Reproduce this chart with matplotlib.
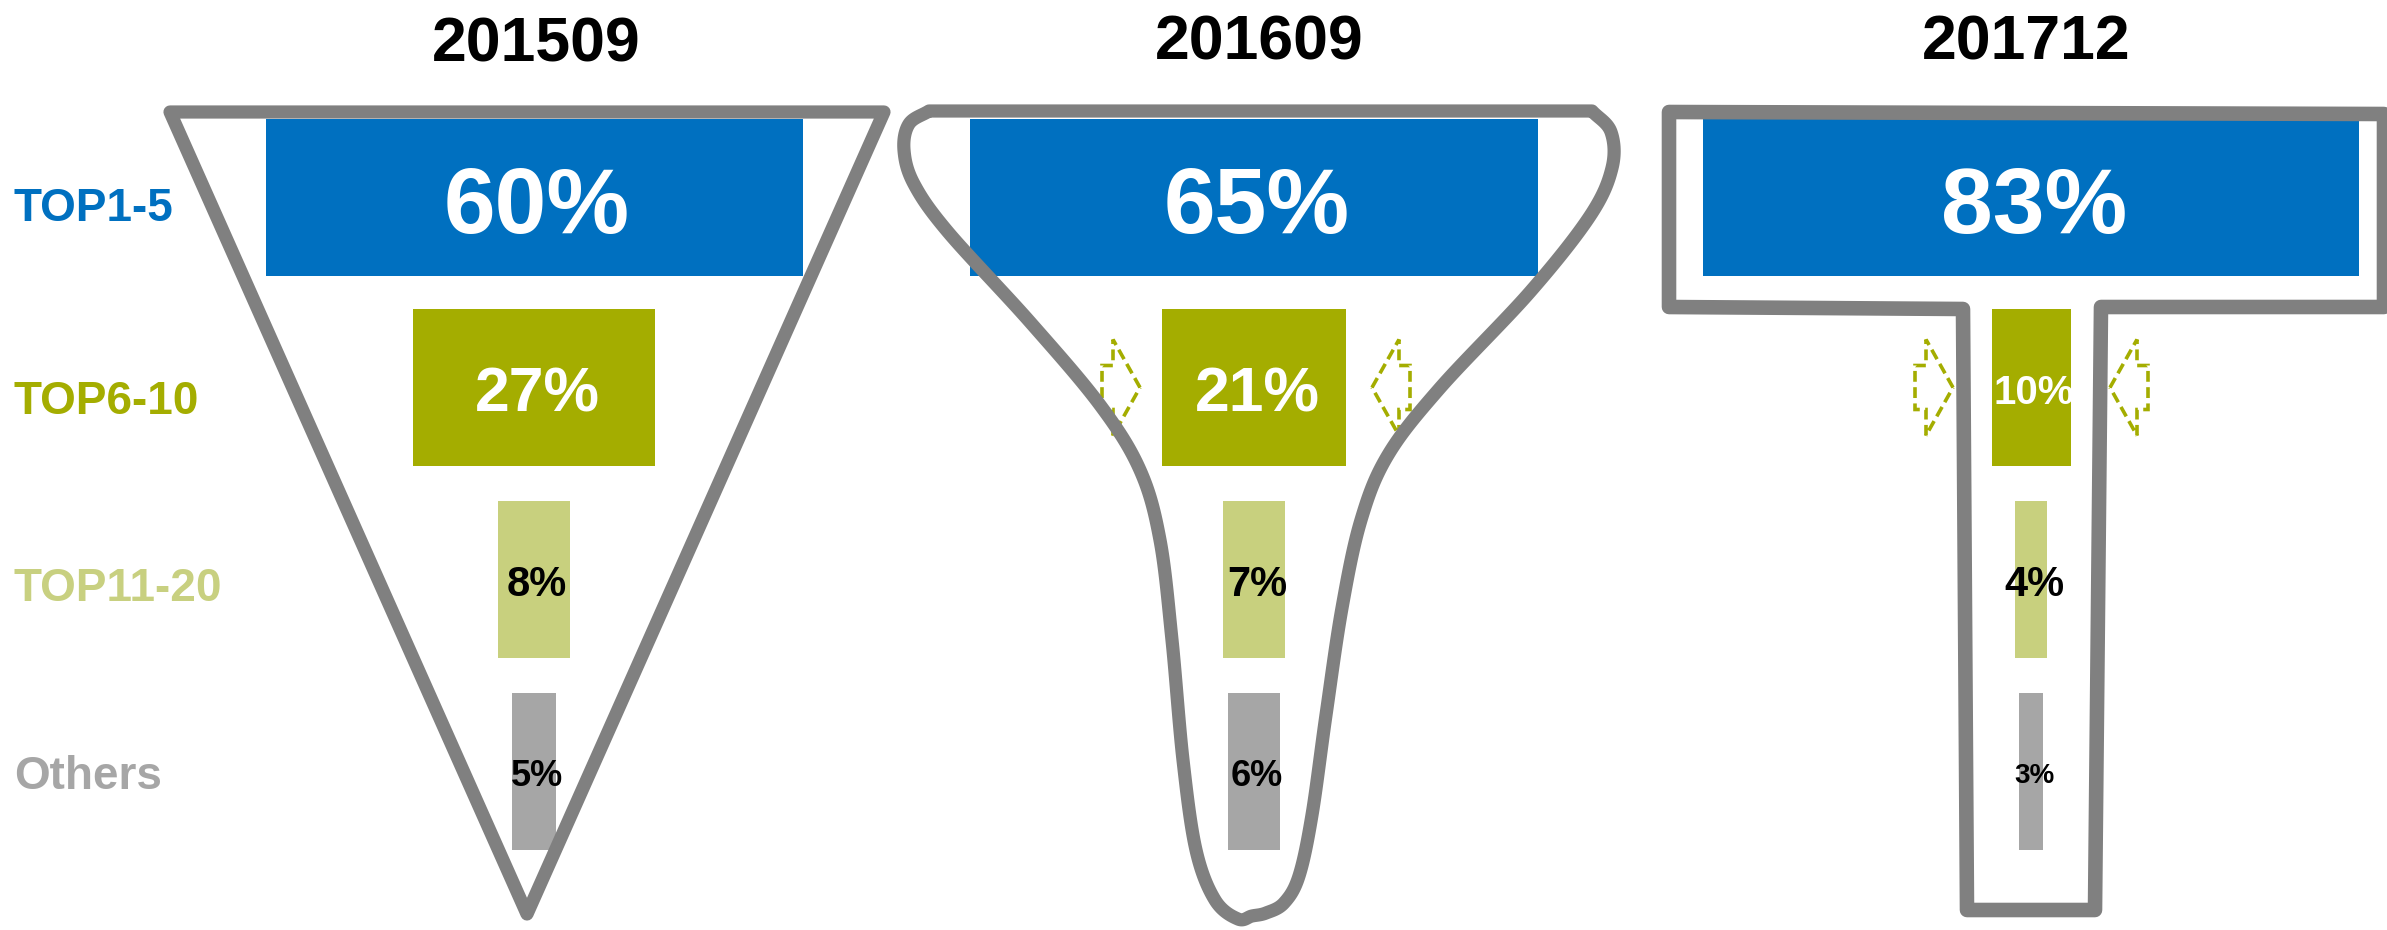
import numpy as np
import matplotlib.pyplot as plt
from matplotlib.patches import Polygon

plt.rcParams['font.family'] = ['Liberation Sans', 'DejaVu Sans']

# data
periods = ['201509', '201609', '201712']
categories = ['TOP1-5', 'TOP6-10', 'TOP11-20', 'Others']
share_201509 = [60, 27, 8, 5]
share_201609 = [65, 21, 7, 6]
share_201712 = [83, 10, 4, 3]
shares = [share_201509, share_201609, share_201712]

bar_colors = ['#0070C0', '#A4AD00', '#C8D07E', '#A6A6A6']
label_colors = ['#0070C0', '#A4AD00', '#C8D080', '#A6A6A6']
text_colors = ['white', 'white', 'black', 'black']
outline = '#808080'

W, H, DPI = 2387, 930, 100
fig = plt.figure(figsize=(W / DPI, H / DPI), dpi=DPI)
ax = fig.add_axes([0, 0, 1, 1])
ax.set_xlim(0, W)
ax.set_ylim(H, 0)
ax.axis('off')

# layout (pixels)
centers = np.array([534, 1254, 2031])
px_per_pct = [8.95, 8.75, 7.9]
rows_y = np.array([197.5, 387.5, 579, 771])
bar_h = 157
font_sizes = [[67, 45, 30, 26], [67, 45, 30, 26], [67, 29, 30, 20]]
title_x = [536, 1259, 2026]
title_base = [61, 60, 60]
label_base = [221, 414, 601, 789]
arrow_offsets = [None, (-114, 118), (-78, 79)]


def cap_px(fs):
    return 0.716 * fs * DPI / 72


def catmull(pts, n=24):
    pts = np.asarray(pts, float)
    P = np.vstack([pts[0] * 2 - pts[1], pts, pts[-1] * 2 - pts[-2]])
    out = []
    t = np.linspace(0, 1, n, endpoint=False)[:, None]
    for i in range(1, len(P) - 2):
        p0, p1, p2, p3 = P[i - 1], P[i], P[i + 1], P[i + 2]
        out.append(0.5 * (2 * p1 + (-p0 + p2) * t + (2 * p0 - 5 * p1 + 4 * p2 - p3) * t ** 2
                          + (-p0 + 3 * p1 - 3 * p2 + p3) * t ** 3))
    out.append(P[-2][None])
    return np.vstack(out)


# funnel outlines
tri = [(170, 112), (884, 112), (527, 914)]
ax.add_patch(Polygon(tri, closed=True, fill=False, ec=outline, lw=9.5,
                     joinstyle='round', zorder=3))

funnel2 = [(929, 111), (909, 124), (904, 150), (914, 184), (948, 232),
           (1030, 322), (1100, 405), (1140, 470), (1160, 540), (1172, 640),
           (1183, 760), (1196, 850), (1215, 900), (1238, 919), (1252, 916),
           (1266, 913), (1284, 903), (1299, 876), (1312, 815), (1326, 715),
           (1342, 608), (1361, 520), (1388, 455), (1440, 388), (1530, 292),
           (1590, 216), (1612, 168), (1611, 132), (1592, 111)]
ax.add_patch(Polygon(catmull(funnel2), closed=True, fill=False, ec=outline, lw=9.5,
                     joinstyle='round', zorder=3))

tee = [(1669, 112), (2384, 114), (2384, 307), (2101, 307), (2095, 910),
       (1967, 910), (1963, 309), (1669, 307)]
ax.add_patch(Polygon(tee, closed=True, fill=False, ec=outline, lw=10.5,
                     joinstyle='round', zorder=3))

# bars + value labels
for p, vals in enumerate(shares):
    widths = np.array(vals) * px_per_pct[p]
    ax.barh(rows_y, widths, left=centers[p] - widths / 2, height=bar_h,
            color=bar_colors, zorder=2)
    for r, v in enumerate(vals):
        fs = font_sizes[p][r]
        ax.text(centers[p] + 3, rows_y[r] + cap_px(fs) / 2 + 2, f'{v}%', fontsize=fs,
                fontweight='bold', color=text_colors[r], ha='center',
                va='baseline', zorder=5)
    ax.text(title_x[p], title_base[p], periods[p], fontsize=45, fontweight='bold',
            color='black', ha='center', va='baseline')

# dashed squeeze arrows
L, hl, hh, sh = 38, 27, 48, 22
for p, offs in enumerate(arrow_offsets):
    if offs is None:
        continue
    for off, d in zip(offs, (1, -1)):
        tx, ty = centers[p] + off, rows_y[1]
        shape = [(0, 0), (-hl, -hh), (-hl, -sh), (-L, -sh), (-L, sh), (-hl, sh), (-hl, hh)]
        pts = [(tx + d * x, ty + y) for x, y in shape]
        ax.add_patch(Polygon(pts, closed=True, fill=False, ec='#A4AD00', lw=2.6,
                             ls=(0, (3, 1.5)), zorder=1))

# category labels
for r, cat in enumerate(categories):
    ax.text(14, label_base[r], cat, fontsize=33, fontweight='bold',
            color=label_colors[r], ha='left', va='baseline')

fig.savefig('out.png', dpi=DPI, facecolor='white')
